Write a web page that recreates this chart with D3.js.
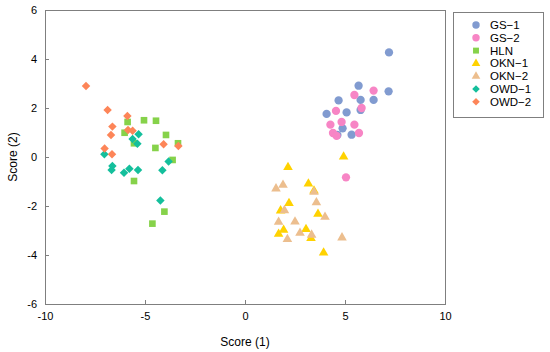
<!DOCTYPE html>
<meta charset="utf-8">
<style>
body { margin: 0; background: #fff; font-family: "Liberation Sans", Arial, sans-serif; }
.tick text { font-size: 11px; fill: #000; }
.axis path, .axis line { stroke: #7f7f7f; shape-rendering: crispEdges; }
</style>
<body>
<script src="https://d3js.org/d3.v7.min.js"></script>
<script>
var groups = ["GS−1", "GS−2", "HLN", "OKN−1", "OKN−2", "OWD−1", "OWD−2"];
var colors = ["#819bd0", "#f785c5", "#86d24a", "#ffd200", "#ecbe8e", "#14bf9c", "#fd8558"];
var shapes = ["circle", "circle", "square", "triangle", "triangle", "diamond", "diamond"];

var gs1 = [[7.2,4.27],[7.18,2.68],[5.68,2.91],[5.78,2.33],[6.43,2.33],[4.68,2.31],[4.08,1.76],[5.08,1.82],[5.78,1.92],[4.88,1.17],[5.33,0.91],[4.62,0.9]];
var gs2 = [[5.47,2.53],[6.43,2.71],[4.55,1.88],[5.83,2.0],[4.27,1.32],[4.83,1.43],[5.47,1.32],[4.4,0.98],[4.58,0.86],[5.7,0.98],[5.05,-0.83]];
var hln = [[-5.87,1.43],[-5.05,1.5],[-4.45,1.48],[-6.02,0.99],[-3.95,0.9],[-4.48,0.37],[-3.35,0.56],[-3.62,-0.12],[-5.55,-0.98],[-4.03,-2.23],[-4.63,-2.72],[-5.55,0.56]];
var okn1 = [[4.93,0.01],[2.15,-0.42],[3.17,-1.09],[3.45,-1.38],[2.2,-1.89],[1.78,-2.19],[3.65,-2.33],[1.93,-2.98],[1.68,-3.14],[3.05,-2.95],[3.3,-3.32],[3.93,-3.91]];
var okn2 = [[1.55,-1.29],[1.9,-1.14],[3.45,-1.43],[3.57,-1.86],[1.97,-2.18],[4.0,-2.45],[1.68,-2.65],[2.5,-2.64],[2.75,-3.1],[2.12,-3.36],[3.33,-3.18],[4.85,-3.29]];
var owd1 = [[-5.62,0.73],[-5.32,0.93],[-5.38,0.54],[-7.03,0.11],[-6.63,-0.37],[-6.67,-0.53],[-6.05,-0.64],[-5.78,-0.48],[-5.35,-0.53],[-4.13,-0.54],[-3.82,-0.18],[-4.23,-1.78]];
var owd2 = [[-7.95,2.9],[-6.87,1.92],[-5.88,1.67],[-6.63,1.24],[-6.7,0.9],[-5.85,1.1],[-5.62,1.07],[-7.02,0.35],[-6.65,0.11],[-4.07,0.52],[-3.33,0.45]];
var series = [gs1, gs2, hln, okn1, okn2, owd1, owd2];

var xTicks = [-10, -5, 0, 5, 10];
var yTicks = [-6, -4, -2, 0, 2, 4, 6];

var margin = {top: 10, left: 45},
    width = 400, height = 294;

var svg = d3.select("body").append("svg")
    .attr("width", 550).attr("height", 352);

var g = svg.append("g")
    .attr("transform", "translate(" + margin.left + "," + margin.top + ")");

var x = d3.scaleLinear().domain([-10, 10]).range([0, width]);
var y = d3.scaleLinear().domain([-6, 6]).range([height, 0]);

g.append("rect")
    .attr("x", 0.5).attr("y", 0.5)
    .attr("width", width).attr("height", height)
    .attr("fill", "none").attr("stroke", "#7f7f7f");

g.append("g").attr("class", "axis")
    .attr("transform", "translate(0," + height + ")")
    .call(d3.axisBottom(x).tickValues(xTicks).tickFormat(String).tickSizeInner(-4).tickSizeOuter(0).tickPadding(8))
    .call(function(s) { s.select(".domain").remove(); });

g.append("g").attr("class", "axis")
    .call(d3.axisLeft(y).tickValues(yTicks).tickFormat(String).tickSizeInner(-4).tickSizeOuter(0).tickPadding(8))
    .call(function(s) { s.select(".domain").remove(); });

// diamonds are rotated squares
function markPath(shape, k) {
  if (shape == "circle") return d3.symbol().type(d3.symbolCircle).size(54 * k)();
  if (shape == "square") return d3.symbol().type(d3.symbolSquare).size(44 * k)();
  if (shape == "triangle") return d3.symbol().type(d3.symbolTriangle).size(40 * k)();
  return d3.symbol().type(d3.symbolSquare).size(36 * k)();
}

series.forEach(function(data, i) {
  g.append("g").selectAll("path")
      .data(data)
    .enter().append("path")
      .attr("d", markPath(shapes[i], 1))
      .attr("transform", function(d) {
        return "translate(" + x(d[0]) + "," + y(d[1]) + ")" + (shapes[i] == "diamond" ? " rotate(45)" : "");
      })
      .attr("fill", colors[i]);
});

// axis titles
svg.append("text")
    .attr("x", margin.left + width / 2).attr("y", 346)
    .attr("text-anchor", "middle")
    .style("font-size", "12px")
    .text("Score (1)");

svg.append("text")
    .attr("transform", "translate(17," + (margin.top + height / 2) + ") rotate(-90)")
    .attr("text-anchor", "middle")
    .style("font-size", "12px")
    .text("Score (2)");

// legend
var legend = svg.append("g").attr("transform", "translate(453,12)");
legend.append("rect")
    .attr("x", 0.5).attr("y", 0.5)
    .attr("width", 90).attr("height", 105)
    .attr("fill", "#fff").attr("stroke", "#7f7f7f");

groups.forEach(function(name, i) {
  var row = legend.append("g").attr("transform", "translate(23," + (13 + i * 12.8) + ")");
  row.append("path")
      .attr("d", markPath(shapes[i], 0.8))
      .attr("transform", shapes[i] == "diamond" ? "rotate(45)" : null)
      .attr("fill", colors[i]);
  row.append("text")
      .attr("x", 14).attr("dy", "0.35em")
      .style("font-size", "11.5px")
      .text(name);
});
</script>
</body>
</html>
